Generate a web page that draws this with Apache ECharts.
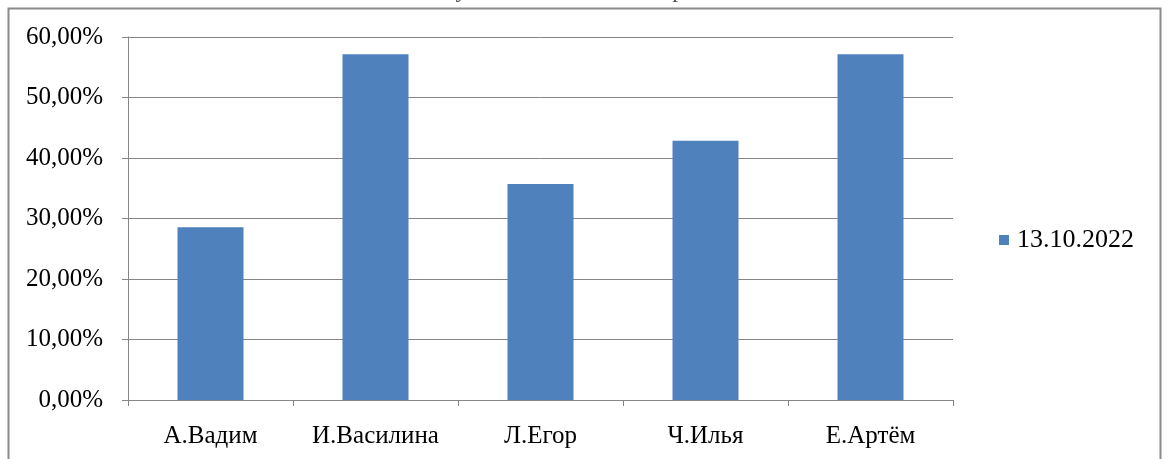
<!DOCTYPE html>
<html>
<head>
<meta charset="utf-8">
<script src="https://cdn.jsdelivr.net/npm/echarts@6/dist/echarts.min.js"></script>
<style>html,body{margin:0;padding:0;background:#fff}#c{width:1168px;height:459px}</style>
</head>
<body>
<div id="c"></div>
<script>
const categories = ['А.Вадим', 'И.Василина', 'Л.Егор', 'Ч.Илья', 'Е.Артём'];
const seriesName = '13.10.2022';
const values = [28.57, 57.14, 35.71, 42.86, 57.14];
const yTicks = [0, 10, 20, 30, 40, 50, 60];
const titleText = 'Результаты выполнения работы';

const chart = echarts.init(document.getElementById('c'));
const font = '"Liberation Serif", "Times New Roman", serif';
chart.setOption({
  animation: false,
  backgroundColor: '#fff',
  title: {
    text: titleText, left: 'center', top: -26,
    textStyle: { fontFamily: font, fontSize: 24, fontWeight: 'normal', color: '#555' }
  },
  graphic: [{
    type: 'rect', silent: true, z: -1,
    shape: { x: 8.5, y: 8.5, width: 1152, height: 470 },
    style: { fill: 'none', stroke: '#8a8a8a', lineWidth: 2 }
  }],
  legend: {
    left: 994, top: 222, icon: 'rect', itemWidth: 10, itemHeight: 10,
    textStyle: { fontFamily: font, fontSize: 26, color: '#000', padding: [0, 0, 0, 3] },
    data: [seriesName]
  },
  grid: { left: 128, right: 215, top: 37, bottom: 59, containLabel: false },
  xAxis: {
    type: 'category', data: categories,
    axisLine: { lineStyle: { color: '#868686', width: 1 } },
    axisTick: { show: true, length: 6, alignWithLabel: false, lineStyle: { color: '#868686' } },
    axisLabel: { fontFamily: font, fontSize: 25, color: '#000', margin: 24 }
  },
  yAxis: {
    type: 'value', min: yTicks[0], max: yTicks[yTicks.length - 1], interval: 10,
    axisLine: { show: true, lineStyle: { color: '#868686', width: 1 } },
    axisTick: { show: true, length: 6, lineStyle: { color: '#868686' } },
    splitLine: { lineStyle: { color: '#868686', width: 1 } },
    axisLabel: {
      fontFamily: font, fontSize: 25, color: '#000', margin: 25,
      formatter: v => v.toFixed(2).replace('.', ',') + '%'
    }
  },
  series: [{
    name: seriesName, type: 'bar', data: values, barWidth: '40%',
    itemStyle: { color: '#4F81BD' }
  }]
});
</script>
</body>
</html>
